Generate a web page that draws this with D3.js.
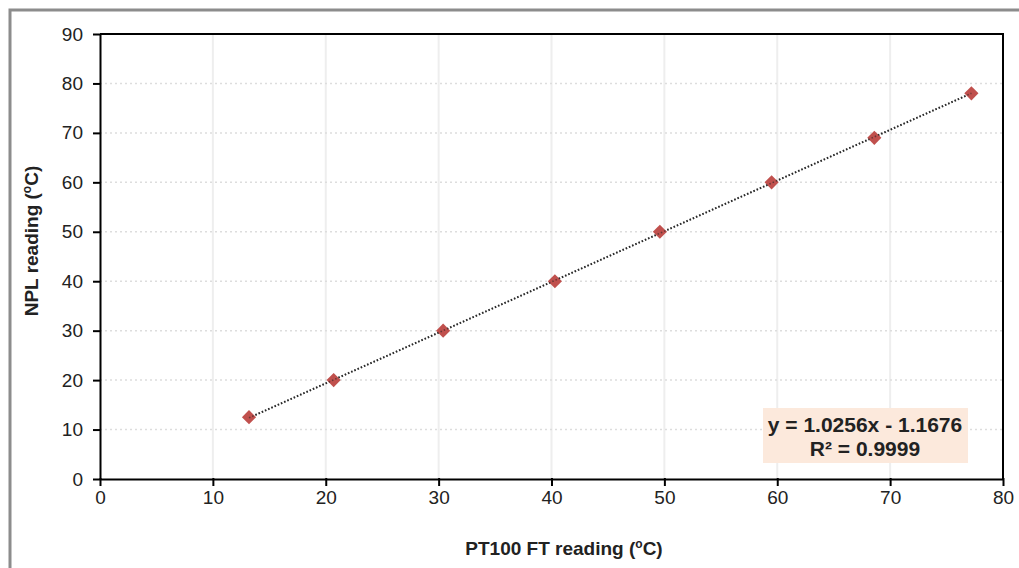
<!DOCTYPE html>
<html>
<head>
<meta charset="utf-8">
<script src="https://cdn.jsdelivr.net/npm/d3@7/dist/d3.min.js"></script>
<style>
  html, body { margin: 0; padding: 0; background: #fff; }
  svg { display: block; font-family: Arial, "Liberation Sans", sans-serif; }
</style>
</head>
<body>
<svg id="chart" width="1019" height="568"></svg>
<script>
// Calibration readings: PT100 FT sensor vs NPL reference
const pt100Reading = [13.2, 20.7, 30.4, 40.3, 49.6, 59.5, 68.6, 77.2];
const nplReading   = [12.5, 20.0, 30.0, 40.0, 50.0, 60.0, 69.0, 78.0];
const xTicks = [0, 10, 20, 30, 40, 50, 60, 70, 80];
const yTicks = [0, 10, 20, 30, 40, 50, 60, 70, 80, 90];
// Linear trendline as stated on the chart
const trendSlope = 1.0256;
const trendIntercept = -1.1676;
const trendR2 = "0.9999";

const svg = d3.select("#chart");
const W = 1019, H = 568;
const plot = { left: 100, right: 1003, top: 34, bottom: 479 };

// outer chart frame
svg.append("rect")
  .attr("x", 10).attr("y", 10)
  .attr("width", W + 20).attr("height", H + 20)
  .attr("fill", "none").attr("stroke", "#8c8c8c").attr("stroke-width", 3);

const x = d3.scaleLinear().domain([0, 80]).range([plot.left, plot.right]);
const y = d3.scaleLinear().domain([0, 90]).range([plot.bottom, plot.top]);

// gridlines
const grid = svg.append("g");
grid.selectAll("line.v").data(xTicks.slice(1, -1)).join("line")
  .attr("x1", d => x(d)).attr("x2", d => x(d))
  .attr("y1", plot.top).attr("y2", plot.bottom)
  .attr("stroke", "#eeeeee").attr("stroke-width", 2);
grid.selectAll("line.h").data(yTicks.slice(1, -1)).join("line")
  .attr("x1", plot.left).attr("x2", plot.right)
  .attr("y1", d => y(d)).attr("y2", d => y(d))
  .attr("stroke", "#dddddd").attr("stroke-width", 1.5)
  .attr("stroke-dasharray", "2,3");

// axes
const xAxis = svg.append("g")
  .attr("transform", `translate(0,${plot.bottom})`)
  .call(d3.axisBottom(x).tickValues(xTicks).tickSize(7).tickSizeOuter(0).tickPadding(5));
const yAxis = svg.append("g")
  .attr("transform", `translate(${plot.left},0)`)
  .call(d3.axisLeft(y).tickValues(yTicks).tickSize(7).tickSizeOuter(0).tickPadding(10));
[xAxis, yAxis].forEach(a => {
  a.select(".domain").attr("stroke", "#000").attr("stroke-width", 2);
  a.selectAll(".tick line").attr("stroke", "#000").attr("stroke-width", 2);
  a.selectAll(".tick text").attr("fill", "#222").attr("font-size", 19).style("font-size", "19px")
    .style("font-family", "Arial, 'Liberation Sans', sans-serif");
});
xAxis.selectAll(".tick line").attr("y1", -1);
yAxis.selectAll(".tick line").attr("x1", 1);

// top and right plot border
svg.append("path")
  .attr("d", `M${plot.left},${plot.top}H${plot.right}V${plot.bottom}`)
  .attr("fill", "none").attr("stroke", "#000").attr("stroke-width", 2);

// trendline
const xMin = d3.min(pt100Reading), xMax = d3.max(pt100Reading);
svg.append("line")
  .attr("x1", x(xMin)).attr("y1", y(trendSlope * xMin + trendIntercept))
  .attr("x2", x(xMax)).attr("y2", y(trendSlope * xMax + trendIntercept))
  .attr("stroke", "#333").attr("stroke-width", 2).attr("stroke-dasharray", "1.5,2");

// data markers (diamonds)
const diamond = d3.symbol().type(d3.symbolSquare).size(100);
svg.append("g").selectAll("path").data(pt100Reading).join("path")
  .attr("d", diamond)
  .attr("transform", (d, i) => `translate(${x(d)},${y(nplReading[i])}) rotate(45)`)
  .attr("fill", "#c0504d");
svg.append("line")
  .attr("x1", x(xMin)).attr("y1", y(trendSlope * xMin + trendIntercept))
  .attr("x2", x(xMax)).attr("y2", y(trendSlope * xMax + trendIntercept))
  .attr("stroke", "#222").attr("stroke-width", 1.6).attr("stroke-dasharray", "1.5,2")
  .attr("opacity", 0.55);

// regression label
const box = svg.append("g");
box.append("rect")
  .attr("x", 763).attr("y", 408).attr("width", 205).attr("height", 55)
  .attr("fill", "#fce9dc");
const sign = trendIntercept < 0 ? "-" : "+";
box.append("text")
  .attr("x", 865).attr("y", 432).attr("text-anchor", "middle")
  .style("font-size", "21px").style("font-weight", "bold").attr("fill", "#222")
  .text(`y = ${trendSlope.toFixed(4)}x ${sign} ${Math.abs(trendIntercept).toFixed(4)}`);
box.append("text")
  .attr("x", 865).attr("y", 456).attr("text-anchor", "middle")
  .style("font-size", "21px").style("font-weight", "bold").attr("fill", "#222")
  .text(`R² = ${trendR2}`);

// axis titles
const xTitle = svg.append("text")
  .attr("x", 564).attr("y", 555).attr("text-anchor", "middle")
  .style("font-size", "19px").style("font-weight", "bold").attr("fill", "#222");
xTitle.append("tspan").text("PT100 FT reading (");
xTitle.append("tspan").attr("dy", -7).style("font-size", "12px").text("o");
xTitle.append("tspan").attr("dy", 7).text("C)");

const yTitle = svg.append("text")
  .attr("transform", "translate(38,241) rotate(-90)").attr("text-anchor", "middle")
  .style("font-size", "19px").style("font-weight", "bold").attr("fill", "#222");
yTitle.append("tspan").text("NPL reading (");
yTitle.append("tspan").attr("dy", -7).style("font-size", "12px").text("o");
yTitle.append("tspan").attr("dy", 7).text("C)");
</script>
</body>
</html>
